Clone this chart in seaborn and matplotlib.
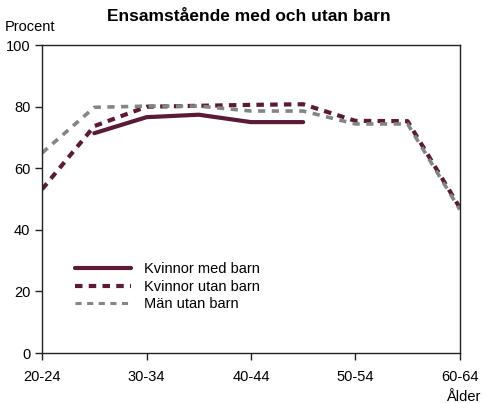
import numpy as np
import pandas as pd
import seaborn as sns
import matplotlib.pyplot as plt

age_groups = ["20-24", "25-29", "30-34", "35-39", "40-44",
              "45-49", "50-54", "55-59", "60-64"]
kvinnor_med_barn = [np.nan, 71.4, 76.6, 77.4, 75.0, 75.0, np.nan, np.nan, np.nan]
kvinnor_utan_barn = [53.2, 73.7, 80.0, 80.3, 80.6, 80.8, 75.4, 75.3, 47.2]
man_utan_barn = [65.0, 79.8, 80.2, 80.2, 78.6, 78.6, 74.4, 74.4, 46.6]

series_names = ["Kvinnor med barn", "Kvinnor utan barn", "Män utan barn"]
tick_labels = ["20-24", "30-34", "40-44", "50-54", "60-64"]

maroon = "#5a1a38"
grey = "#858585"


def build_frame():
    rows = []
    for name, vals in zip(series_names,
                          [kvinnor_med_barn, kvinnor_utan_barn, man_utan_barn]):
        for i, v in enumerate(vals):
            rows.append({"pos": i, "age": age_groups[i], "serie": name, "value": v})
    return pd.DataFrame(rows).dropna()


def main():
    sns.set_style("ticks")
    plt.rcParams["font.family"] = ["Liberation Sans", "DejaVu Sans"]
    plt.rcParams["text.color"] = "black"
    plt.rcParams["xtick.color"] = "black"
    plt.rcParams["ytick.color"] = "black"

    df = build_frame()
    fig = plt.figure(figsize=(4.84, 4.03), dpi=100)
    ax = fig.add_axes([0.087, 0.124, 0.863, 0.764])

    styles = {
        "Kvinnor med barn": dict(color=maroon, lw=3.0, ls="-"),
        "Kvinnor utan barn": dict(color=maroon, lw=3.0, ls=(0, (1.8, 1.5))),
        "Män utan barn": dict(color=grey, lw=2.6, ls=(0, (2.0, 1.8))),
    }
    for name in series_names:
        sub = df[df["serie"] == name]
        st = styles[name]
        sns.lineplot(data=sub, x="pos", y="value", ax=ax, color=st["color"],
                     linewidth=st["lw"], linestyle=st["ls"], label=name,
                     sort=False)

    ax.set_xlim(0, 8)
    ax.set_ylim(0, 100)
    ax.set_xticks([age_groups.index(t) for t in tick_labels])
    ax.set_xticklabels(tick_labels)
    ax.set_yticks([0, 20, 40, 60, 80, 100])
    ax.tick_params(axis="both", labelsize=10.5, length=5, width=1, color="#222222")
    ax.tick_params(axis="x", pad=7)
    ax.set_xlabel("")
    ax.set_ylabel("")
    for sp in ax.spines.values():
        sp.set_visible(True)
        sp.set_color("#222222")
        sp.set_linewidth(1)

    fig.text(0.515, 0.958, "Ensamstående med och utan barn", ha="center",
             va="center", fontsize=12.5, fontweight="bold")
    fig.text(0.01, 0.933, "Procent", ha="left", va="center", fontsize=10.5)
    fig.text(0.992, 0.016, "Ålder", ha="right", va="center", fontsize=10.5)

    leg = ax.legend(loc="upper left", bbox_to_anchor=(0.048, 0.338), frameon=False,
                    fontsize=10.5, handlelength=3.8, handletextpad=0.9,
                    labelspacing=0.25)
    leg.get_lines()[2].set_linewidth(2.2)

    fig.savefig("out.png", dpi=100)


if __name__ == "__main__":
    main()
